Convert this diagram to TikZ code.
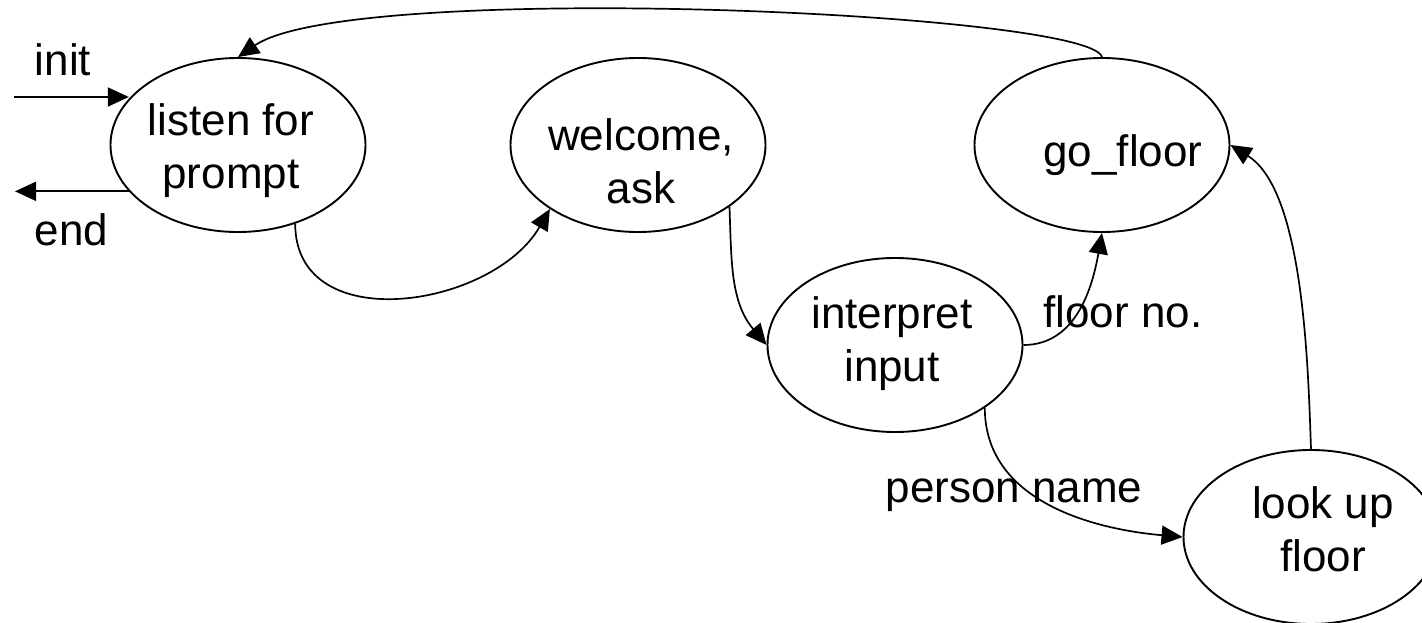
\documentclass[tikz,border=0pt]{standalone}
\usepackage{fontspec}
\setmainfont{Liberation Sans}
\usetikzlibrary{arrows.meta,shapes.geometric}
\begin{document}
\begin{tikzpicture}[x=1pt,y=1pt,
  state/.style={draw, ellipse, line width=1.9pt, minimum width=255pt,
    minimum height=174pt, inner sep=0pt},
  lbl/.style={font=\fontsize{44}{53}\selectfont, inner sep=0pt, align=center},
  conn/.style={line width=1.7pt, -{Triangle[length=21pt,width=19pt]}}]
\useasboundingbox (0,0) rectangle (1422,-623);
\clip (0,0) rectangle (1422,-623);

% states
\node[state] (listen)  at (238,-145) {};
\node[state] (welcome) at (638,-145) {};
\node[state] (go)      at (1102,-145) {};
\node[state] (interp)  at (895,-345) {};
\node[state] (lookup)  at (1311,-537) {};

% state names
\node[lbl] (listenT)  at (231,-150.5) {listen for\\prompt};
\node[lbl] (welcomeT) at (641,-161.3) {welcome,\\ask};
\node[lbl, anchor=base] (goT) at (1123,-167) {go\_floor};
\node[lbl] (interpT)  at (892,-343.4) {interpret\\input};
\node[lbl] (lookupT)  at (1323,-528.8) {look up\\floor};

% transition labels
\node[lbl, anchor=base] (initL)   at (63,-76)    {init};
\node[lbl, anchor=base] (endL)    at (71.5,-245) {end};
\node[lbl, anchor=base] (floorL)  at (1123,-327) {floor no.};
\node[lbl, anchor=base] (personL) at (1014,-502) {person name};

% free ends of the entry and exit arrows
\coordinate (initS) at (14,-97);
\coordinate (endE)  at (15,-193);

% transitions
\draw[conn] (initS) -- (initS -| listen.157);
\draw[conn] (listen.203) -- (listen.203 -| endE);
\draw[conn] (listen.-54) to[out=-90, in=240, looseness=1.15] (welcome.-144);
\draw[conn] (welcome.-34) to[out=-88, in=130] (interp.west);
\draw[conn] (interp.east) to[out=0, in=-100] (go.south);
\draw[conn] (interp.-35) to[out=-90, in=175] (lookup.west);
\draw[conn] (lookup.north) to[out=92, in=-32, looseness=0.7] (go.east);
\draw[conn] (go.north) .. controls (1090,-12) and (350,20) .. (listen.north);
\end{tikzpicture}
\end{document}
